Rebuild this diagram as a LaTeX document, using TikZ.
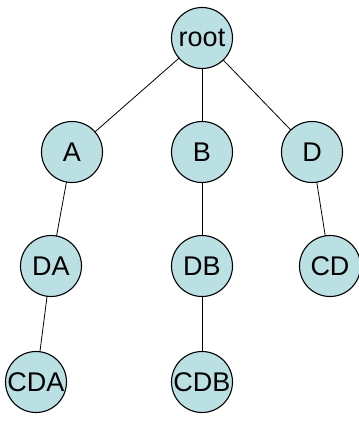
\documentclass[tikz,border=0pt]{standalone}
\usepackage{fontspec}
\setmainfont{Liberation Sans}
\definecolor{nodefill}{RGB}{187,224,227}
\begin{document}
\begin{tikzpicture}[x=1pt,y=-1pt,
  treenode/.style={circle,draw=black,line width=1.1pt,fill=nodefill,
    minimum size=61pt,inner sep=0pt,font=\fontsize{27}{27}\selectfont},
  edge/.style={draw=black,line width=0.8pt}]
\useasboundingbox (0,0) rectangle (359,421);
\fill[white] (0,0) rectangle (359,421);
% node positions
\coordinate (pr) at (202,38);
\coordinate (pa) at (72,152);
\coordinate (pb) at (202,152);
\coordinate (pd) at (312,152);
\coordinate (pda) at (51,266);
\coordinate (pdb) at (202,266);
\coordinate (pcd) at (330,266);
\coordinate (pcda) at (36,382);
\coordinate (pcdb) at (202,382);
% connectors behind the nodes
\draw[edge] (pr) -- (pa);
\draw[edge] (pr) -- (pb);
\draw[edge] (pr) -- (pd);
\draw[edge] (pa) -- (pda);
\draw[edge] (pda) -- (pcda);
\draw[edge] (pb) -- (pdb);
\draw[edge] (pdb) -- (pcdb);
\draw[edge] (pd) -- (pcd);
% nodes
\node[treenode] (root) at (pr) {root};
\node[treenode] (A) at (pa) {A};
\node[treenode] (B) at (pb) {B};
\node[treenode] (D) at (pd) {D};
\node[treenode] (DA) at (pda) {DA};
\node[treenode] (DB) at (pdb) {DB};
\node[treenode] (CD) at (pcd) {CD};
\node[treenode] (CDA) at (pcda) {CDA};
\node[treenode] (CDB) at (pcdb) {CDB};
\end{tikzpicture}
\end{document}
